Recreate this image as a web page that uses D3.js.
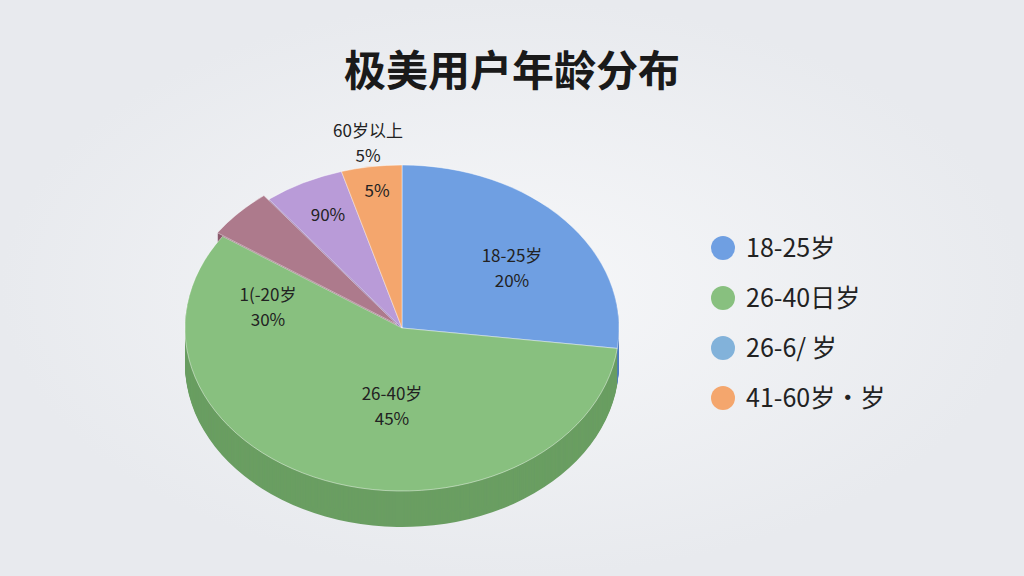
<!DOCTYPE html>
<html><head><meta charset="utf-8">
<script src="https://cdn.jsdelivr.net/npm/d3@7"></script>
<style>body{margin:0;background:#eef0f3;font-family:"Noto Sans CJK SC","Noto Sans",sans-serif}</style>
</head><body><svg id="c" width="1024" height="576"></svg>
<script>
const sliceNames=["18-25岁","26-40岁","60岁以下","41-60岁","60岁以上"];
const sliceShares=[27,57.5,5,6,4.5];
const sliceColors=["#6f9fe2","#88c07f","#ad7a8c","#b99bd8","#f4a66d"];
const sideColors=["#4f7cc0","#6a9e62","#8a5a6c","#9479b4","#d28450"];
const labelLines=[["18-25岁","20%"],["26-40岁","45%"],["",""],["90%"],["5%"]];
const sideLabel=["1(-20岁","30%"];
const outLabel=["60岁以上","5%"];
const legendNames=["18-25岁","26-40日岁","26-6/ 岁","41-60岁·岁"];
const legendColors=["#6f9fe2","#88c07f","#82b2da","#f4a66d"];

const svg=d3.select("#c");
const defs=svg.append("defs");
const g0=defs.append("radialGradient").attr("id","bg");
g0.append("stop").attr("offset","0").attr("stop-color","#f6f7f9");
g0.append("stop").attr("offset","1").attr("stop-color","#e8eaee");
svg.append("rect").attr("width",1024).attr("height",576).attr("fill","url(#bg)");
svg.append("text").attr("x",512).attr("y",86).attr("text-anchor","middle")
 .attr("font-size",42).attr("font-weight",700).attr("fill","#1a1a1a").text("极美用户年龄分布");

const cx=402,cy=328,rx=217,ry=163,depth=36;
const pie=d3.pie().sort(null).value(d=>d)(sliceShares);
const arc=d3.arc().innerRadius(0).outerRadius(rx);
const off=i=>{if(i!==2)return[0,0];const a=(pie[i].startAngle+pie[i].endAngle)/2;return[Math.sin(a)*7,-Math.cos(a)*7*ry/rx];};
const layer=svg.append("g");
for(let d=depth;d>0;d-=1){
  pie.forEach((p,i)=>{const[ox,oy]=off(i);
    layer.append("path").attr("d",arc(p)).attr("fill",sideColors[i])
     .attr("transform",`translate(${cx+ox},${cy+oy+d}) scale(1,${ry/rx})`);});
}
pie.forEach((p,i)=>{const[ox,oy]=off(i);
  svg.append("path").attr("d",arc(p)).attr("fill",sliceColors[i])
   .attr("stroke","#ffffff").attr("stroke-opacity",0.5).attr("stroke-width",1)
   .attr("transform",`translate(${cx+ox},${cy+oy}) scale(1,${ry/rx})`);});

function lbl(x,y,lines){lines.forEach((t,k)=>svg.append("text").attr("x",x).attr("y",y+k*25)
 .attr("text-anchor","middle").attr("font-size",17).attr("fill","#222").text(t));}
lbl(512,262,labelLines[0]);lbl(392,400,labelLines[1]);lbl(328,221,labelLines[3]);lbl(377,197,labelLines[4]);
lbl(268,301,sideLabel);lbl(368,137,outLabel);

legendNames.forEach((n,i)=>{const y=248+i*50;
  svg.append("circle").attr("cx",723).attr("cy",y).attr("r",12).attr("fill",legendColors[i]);
  svg.append("text").attr("x",746).attr("y",y+9).attr("font-size",25).attr("fill","#222").text(n);});
</script></body></html>
